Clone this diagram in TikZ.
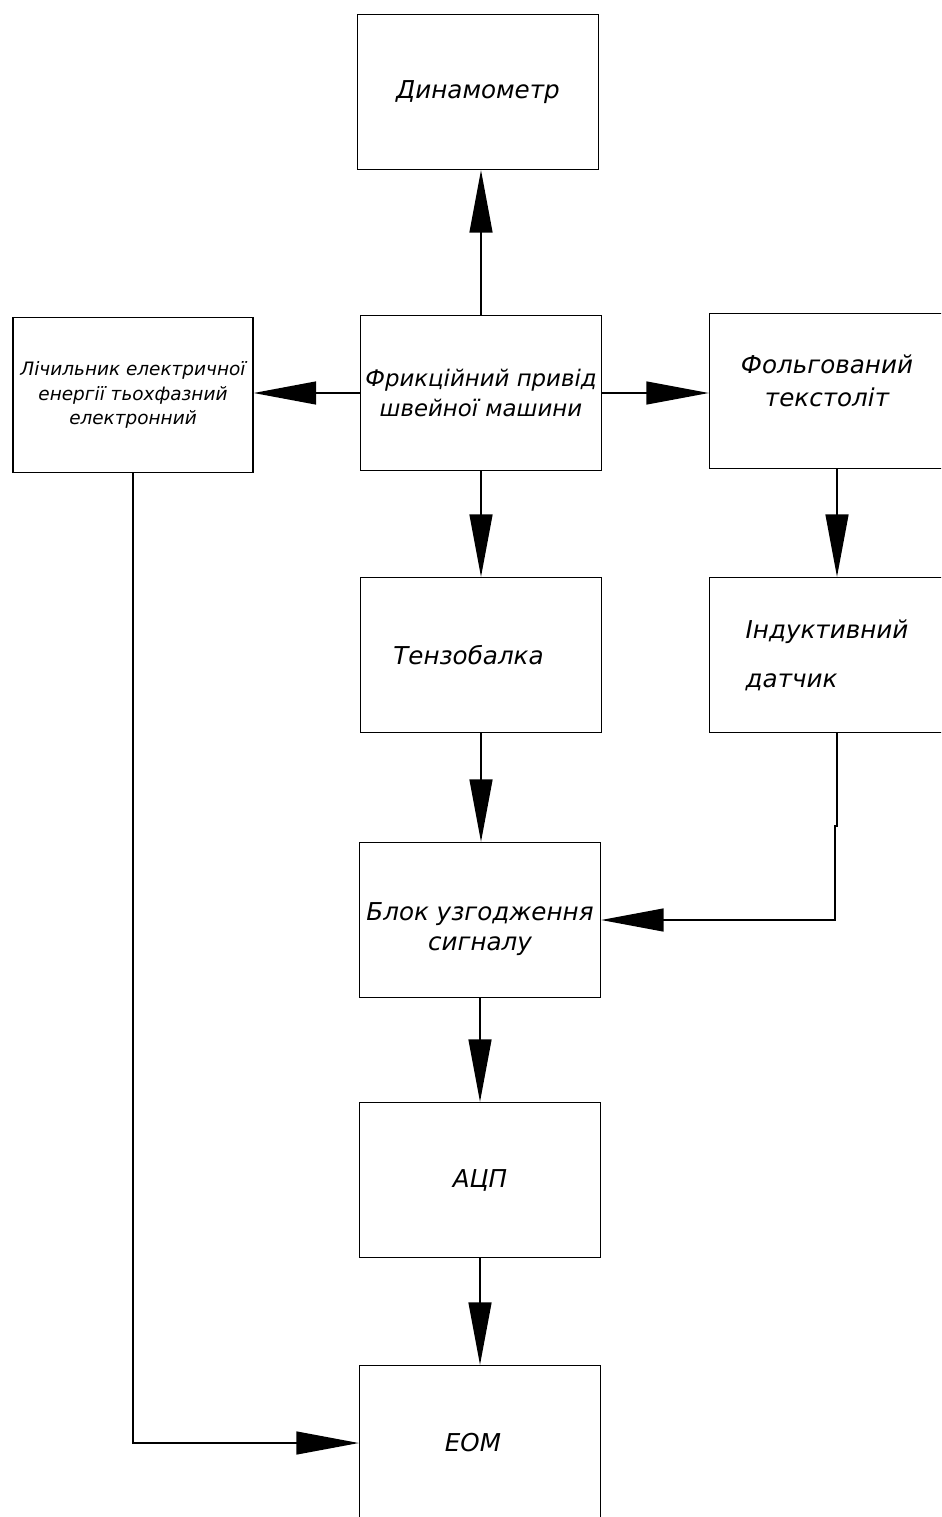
\documentclass[tikz,border=0pt]{standalone}
\usepackage{fontspec}
\setmainfont{DejaVu Sans}
\usetikzlibrary{arrows.meta}

\begin{document}
\begin{tikzpicture}[x=0.02cm,y=-0.02cm,
  block/.style={draw,line width=0.8pt,minimum width=4.82cm,minimum height=3.1cm,
    inner sep=0pt,align=center,font=\itshape\fontsize{14}{17}\selectfont},
  arr/.style={line width=0.8pt,-{Triangle[length=1.25cm,width=0.46cm]}}]
\useasboundingbox (0,0) rectangle (941,1517);
\clip (0,0) rectangle (941,1517);

\node[block] (dyn) at (478,92) {Динамометр};
\node[block,font=\itshape\fontsize{13}{17}\selectfont] (fr) at (481,393) {Фрикційний привід\\швейної машини};
\node[block,minimum width=4.8cm,font=\itshape\fontsize{10.5}{14}\selectfont] (cnt) at (133,395)
  {Лічильник електричної\\енергії тьохфазний\\електронний};
\node[block,minimum width=4.7cm] (foil) at (827,391) {Фольгований\\[2pt]текстоліт\\[-5pt]};
\node[block] (tenz) at (481,655) {Тензобалка\hspace*{0.5cm}};
\node[block,minimum width=4.7cm,align=left] (ind) at (827,655) {Індуктивний\\[11pt]датчик};
\node[block] (blk) at (480,920) {Блок узгодження\\сигналу\\[-24pt]};
\node[block] (adc) at (480,1180) {АЦП};
\node[block] (eom) at (480,1443) {ЕОМ\hspace*{0.28cm}};

\draw[arr] (fr.north) -- (fr.north |- dyn.south);
\draw[arr] (fr.west) -- (fr.west -| cnt.east);
\draw[arr] (fr.east) -- (fr.east -| foil.west);
\draw[arr] (fr.south) -- (fr.south |- tenz.north);
\draw[arr] ([xshift=0.2cm]foil.south) -- ([xshift=0.2cm]ind.north);
\draw[arr] (tenz.south) -- (tenz.south |- blk.north);
\draw[arr] ([xshift=0.2cm]ind.south) -- ++(0,93) -- ++(-2,0) |- (blk.east);
\draw[arr] (blk.south) -- (adc.north);
\draw[arr] (adc.south) -- (eom.north);
\draw[arr] (cnt.south) |- (eom.west);
\end{tikzpicture}
\end{document}
